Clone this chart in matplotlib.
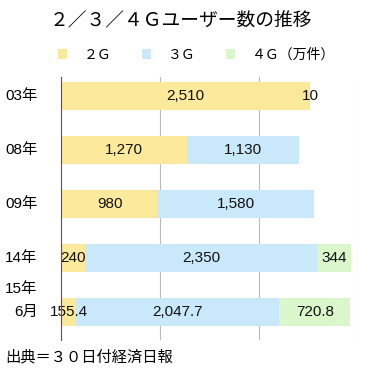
import numpy as np
import matplotlib.pyplot as plt

plt.rcParams['font.family'] = ['Liberation Sans', 'Noto Sans CJK JP', 'DejaVu Sans']

years = ['03年', '08年', '09年', '14年', '15年\n 6月']
g2 = [2510, 1270, 980, 240, 155.4]
g3 = [10, 1130, 1580, 2350, 2047.7]
g4 = [0, 0, 0, 344, 720.8]
g2_lbl = ['2,510', '1,270', '980', '240', '155.4']
g3_lbl = ['10', '1,130', '1,580', '2,350', '2,047.7']
g4_lbl = ['', '', '', '344', '720.8']
series_names = ['２Ｇ', '３Ｇ', '４Ｇ（万件）']
colors = ['#fde99c', '#c9e8fa', '#daf6cb']

fig = plt.figure(figsize=(3.7, 3.73), dpi=100)
ax = fig.add_axes([61 / 370, 1 - 340 / 373, 297 / 370, 263 / 373])

y = np.arange(len(years))
h = 0.52
left = np.zeros(len(years))
bars = []
for vals, lbls, c in zip([g2, g3, g4], [g2_lbl, g3_lbl, g4_lbl], colors):
    vals = np.array(vals, dtype=float)
    b = ax.barh(y, vals, left=left, height=h, color=c, zorder=2)
    bars.append(b)
    for yi, l0, v, t in zip(y, left, vals, lbls):
        if t:
            ax.text(l0 + v / 2, yi, t, ha='center', va='center',
                    fontsize=11, color='#111111', zorder=3)
    left = left + vals

ax.set_xlim(0, 3000)
ax.set_ylim(len(years) - 1 + 0.52, -0.35)
ax.set_xticks([1000, 2000, 3000])
ax.xaxis.grid(True, color='#bbbbbb', linewidth=0.8, zorder=0)
ax.tick_params(axis='both', length=0, labelbottom=False, labelleft=False)
for s in ['top', 'right', 'bottom']:
    ax.spines[s].set_visible(False)
ax.spines['left'].set_color('#555555')
ax.spines['left'].set_linewidth(0.8)
ax.spines['left'].set_zorder(4)

# category labels at left edge of figure
xl = -56 / 297 * 3000
for yi, lab in zip(y, years):
    if '\n' in lab:
        top, bot = lab.split('\n')
        ax.text(xl, yi - 0.42, top, ha='left', va='center', fontsize=11)
        ax.text(-47 / 297 * 3000, yi, bot.strip(), ha='left', va='center', fontsize=11)
    else:
        ax.text(xl, yi, lab, ha='left', va='center', fontsize=11)

fig.text(0.49, 1 - 22 / 373, '２／３／４Ｇユーザー数の推移', ha='center', va='center',
         fontsize=13.5)
fig.legend(bars, series_names, loc='center left', bbox_to_anchor=(58 / 370, 1 - 55 / 373),
           ncol=3, frameon=False, fontsize=10, handlelength=0.65, handleheight=0.65,
           handletextpad=1.2, columnspacing=2.2, borderpad=0, borderaxespad=0)
fig.text(5 / 370, 1 - 357 / 373, '出典＝３０日付経済日報', ha='left', va='center',
         fontsize=11)

fig.savefig('out.png', dpi=100)
